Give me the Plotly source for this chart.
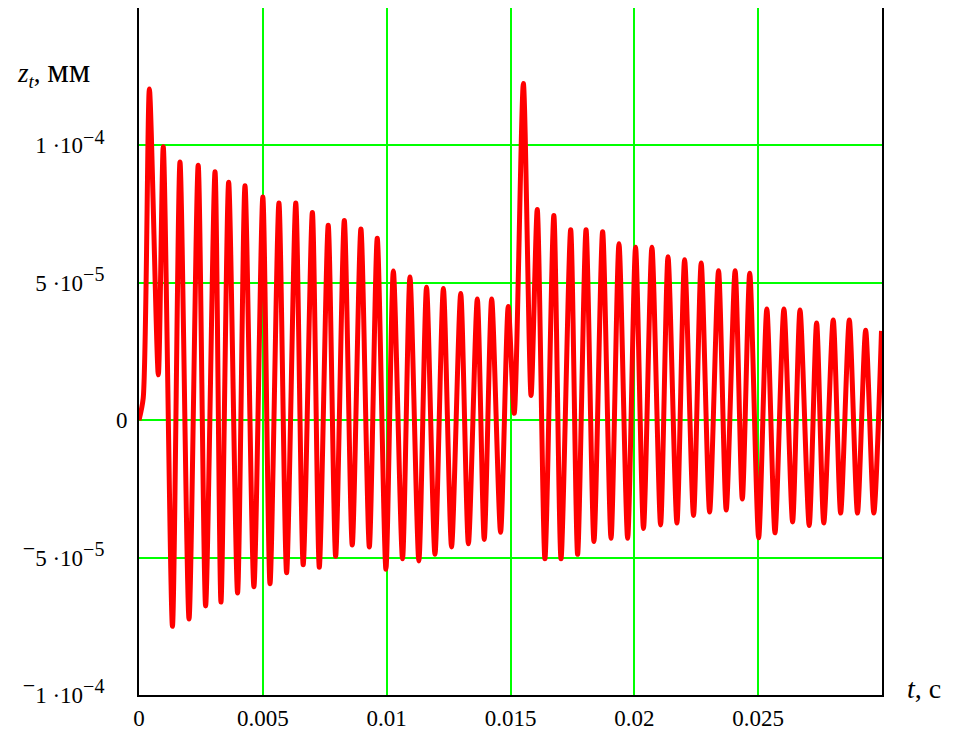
import numpy as np
import plotly.graph_objects as go

# time of extrema, ms
t_ms = [0.00, 0.17, 0.42, 0.78, 0.98, 1.35, 1.655, 2.02, 2.39, 2.69, 3.07, 3.31, 3.62, 3.98,
        4.28, 4.64, 5.00, 5.29, 5.65, 5.96, 6.33, 6.63, 7.00, 7.28, 7.64, 7.94, 8.29, 8.61,
        8.96, 9.30, 9.62, 9.97, 10.27, 10.64, 10.94, 11.30, 11.61, 11.95, 12.29, 12.62, 12.99,
        13.30, 13.66, 13.94, 14.24, 14.60, 14.91, 15.15, 15.52, 15.83, 16.08, 16.39, 16.75,
        17.04, 17.43, 17.71, 18.05, 18.37, 18.72, 19.06, 19.38, 19.73, 20.05, 20.37, 20.71,
        21.06, 21.36, 21.72, 22.03, 22.39, 22.70, 23.04, 23.40, 23.71, 24.07, 24.36, 24.66,
        25.02, 25.35, 25.68, 26.04, 26.39, 26.69, 27.06, 27.36, 27.65, 28.03, 28.33, 28.68,
        29.01, 29.34, 29.67, 29.98]
# displacement at extrema, 1e-6 mm
z_u = [0.0, 8.0, 120.5, 16.5, 99.5, -75.0, 94.0, -72.3, 92.8, -67.6, 90.4, -66.2, 86.6, -62.9,
       85.3, -60.6, 81.2, -59.5, 79.0, -55.5, 79.0, -52.6, 75.6, -53.5, 70.9, -49.5, 72.7, -45.4,
       69.6, -46.1, 66.2, -54.2, 54.3, -50.4, 52.1, -51.2, 48.4, -48.8, 47.9, -46.1, 46.1,
       -45.0, 44.1, -43.4, 44.1, -40.8, 41.4, 2.5, 122.5, 9.0, 76.7, -50.4, 74.5,
       -50.4, 69.3, -48.8, 69.3, -44.1, 68.6, -43.0, 64.2, -43.0, 62.9, -39.4, 62.9,
       -38.1, 59.5, -37.4, 58.4, -34.7, 57.2, -33.4, 54.4, -32.7, 54.4, -28.7, 53.5,
       -42.8, 40.5, -41.0, 40.5, -37.0, 40.1, -38.3, 35.4, -37.4, 36.5, -33.8, 36.5,
       -33.8, 32.7, -33.8, 32.5]

x_tickvals = [0, 0.005, 0.01, 0.015, 0.02, 0.025]
x_ticktext = ["0", "0.005", "0.01", "0.015", "0.02", "0.025"]
y_tickvals = [-1e-4, -5e-5, 0, 5e-5, 1e-4]


def sci(m, e, neg=False):
    lead = "<sup><span style='font-size:22px'>−</span></sup>" if neg else ""
    return (lead + m + " ·10<sup><span style='font-size:20px'>−" + e + "</span></sup>"
            + "\u2002\u2002")


y_ticktext = [sci("1", "4", True), sci("5", "5", True), "0", sci("5", "5"), sci("1", "4")]

t = np.array(t_ms) * 1e-3
z = np.array(z_u) * 1e-6

FONT = "Liberation Serif"

# page body adds an 8px offset, so the figure is 8px smaller than the window
W, H = 949, 725
L, R, T, B = 131, 75, 0, 38
PW, PH = W - L - R, H - T - B

fig = go.Figure()
fig.add_trace(go.Scatter(x=t, y=z, mode="lines",
                         line=dict(color="#ff0000", width=5, shape="spline", smoothing=0.7),
                         showlegend=False, hoverinfo="skip"))

fig.update_layout(
    width=W, height=H,
    margin=dict(l=L, r=R, t=T, b=B, autoexpand=False),
    paper_bgcolor="white", plot_bgcolor="white",
    font=dict(family=FONT, size=23, color="black"),
)
fig.update_xaxes(range=[0, 0.03], tickvals=x_tickvals, ticktext=x_ticktext,
                 showgrid=True, gridcolor="#00ff00", gridwidth=2, zeroline=False,
                 showline=True, linecolor="black", linewidth=2, mirror=True,
                 ticks="", ticklabelstandoff=1, tickfont=dict(size=23, family=FONT))
fig.update_yaxes(range=[-1e-4, 1.5e-4], tickvals=y_tickvals, ticktext=y_ticktext,
                 showgrid=True, gridcolor="#00ff00", gridwidth=2, zeroline=False,
                 showline=True, linecolor="black", linewidth=2, mirror=True,
                 ticks="", ticklabelstandoff=5, tickfont=dict(size=23, family=FONT))

# screen px -> figure px: subtract 8
fig.add_annotation(text="<i>z<sub>t</sub></i>, <span style='font-size:34px'>мм</span>",
                   xref="paper", yref="paper",
                   x=(15 - 8 - L) / PW, y=(H - B - (72 - 8)) / PH, xanchor="left", yanchor="middle",
                   showarrow=False, font=dict(size=27, family=FONT))
fig.add_annotation(text="<i>t</i>, с", xref="paper", yref="paper",
                   x=(905 - 8 - L) / PW, y=(H - B - (688 - 8)) / PH, xanchor="left", yanchor="middle",
                   showarrow=False, font=dict(size=28, family=FONT))

fig.write_html("out.html")
